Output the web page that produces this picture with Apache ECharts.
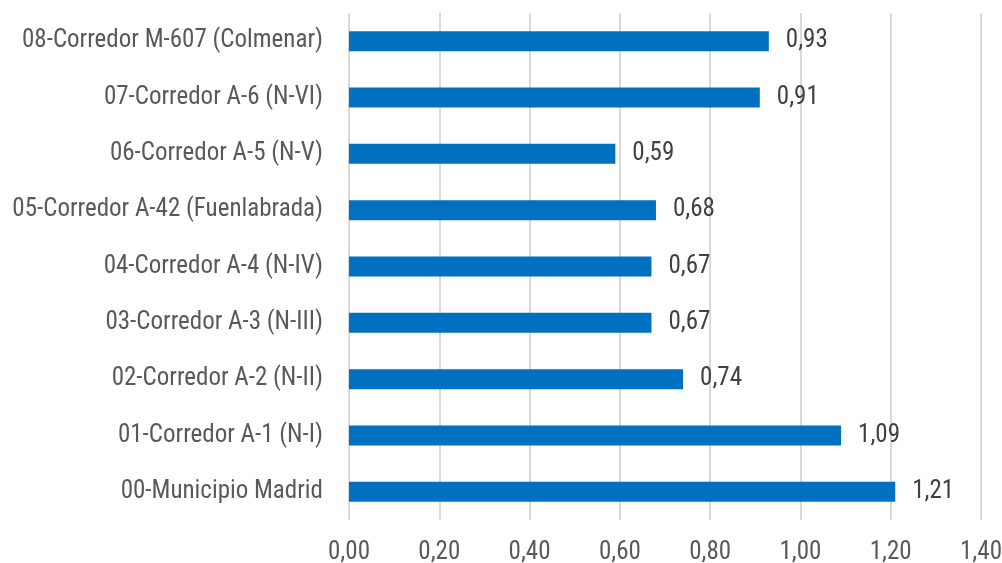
<!DOCTYPE html>
<html>
<head>
<meta charset="utf-8">
<script src="https://cdn.jsdelivr.net/npm/echarts@6/dist/echarts.min.js"></script>
<style>
  html, body { margin: 0; padding: 0; background: #fff; }
  #chart { width: 1002px; height: 563px; }
</style>
</head>
<body>
<div id="chart"></div>
<script>
// categories bottom to top
var categories = [
  '00-Municipio Madrid',
  '01-Corredor A-1 (N-I)',
  '02-Corredor A-2 (N-II)',
  '03-Corredor A-3 (N-III)',
  '04-Corredor A-4 (N-IV)',
  '05-Corredor A-42 (Fuenlabrada)',
  '06-Corredor A-5 (N-V)',
  '07-Corredor A-6 (N-VI)',
  '08-Corredor M-607 (Colmenar)'
];
var values = [1.21, 1.09, 0.74, 0.67, 0.67, 0.68, 0.59, 0.91, 0.93];
var xTicks = [0, 0.2, 0.4, 0.6, 0.8, 1.0, 1.2, 1.4];

var fontFam = '"Roboto Condensed", "Liberation Sans Narrow", "Arial Narrow", sans-serif';

function fmt(v) {
  return v.toFixed(2).replace('.', ',');
}

var chart = echarts.init(document.getElementById('chart'));
var option = {
  animation: false,
  grid: { left: 349, right: 21, top: 13, bottom: 43, containLabel: false, outerBoundsMode: 'none' },
  xAxis: {
    type: 'value',
    min: xTicks[0],
    max: xTicks[xTicks.length - 1],
    interval: 0.2,
    axisLine: { show: false },
    axisTick: { show: false },
    splitLine: { lineStyle: { color: '#d9d9d9', width: 2 } },
    axisLabel: {
      formatter: fmt,
      color: '#595959',
      fontSize: 25,
      fontFamily: fontFam,
      margin: 20
    }
  },
  yAxis: {
    type: 'category',
    data: categories,
    axisLine: { show: false },
    axisTick: { show: false },
    axisLabel: {
      color: '#595959',
      fontSize: 25,
      fontFamily: fontFam,
      margin: 26,
      padding: [4, 0, 0, 0]
    }
  },
  series: [{
    type: 'bar',
    data: values,
    barWidth: 20,
    itemStyle: { color: '#0070c0' },
    label: {
      show: true,
      position: 'right',
      distance: 17,
      padding: [4, 0, 0, 0],
      formatter: function (p) { return fmt(p.value); },
      color: '#404040',
      fontSize: 25,
      fontFamily: fontFam
    }
  }]
};
chart.setOption(option);
</script>
</body>
</html>
